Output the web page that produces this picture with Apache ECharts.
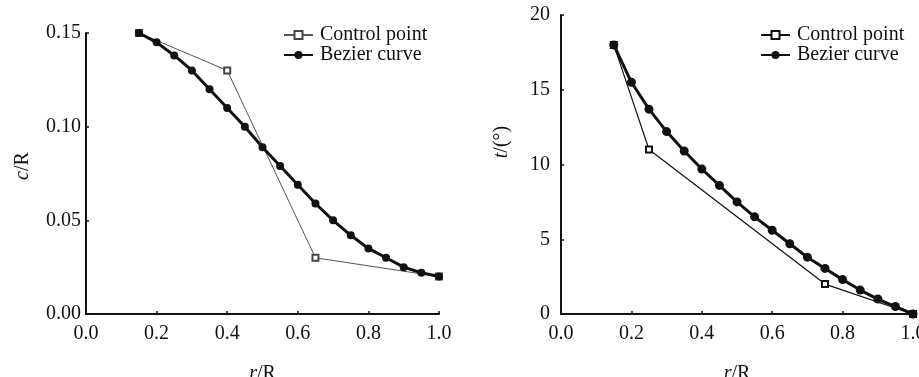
<!DOCTYPE html>
<html>
<head>
<meta charset="utf-8">
<script src="https://cdn.jsdelivr.net/npm/echarts@6/dist/echarts.min.js"></script>
<style>
  html, body { margin: 0; padding: 0; background: #fff; }
  #chart { width: 919px; height: 377px; }
</style>
</head>
<body>
<div id="chart"></div>
<script>
// r/R positions shared by both Bezier curves
const rPoints = [0.15, 0.2, 0.25, 0.3, 0.35, 0.4, 0.45, 0.5, 0.55, 0.6, 0.65, 0.7, 0.75, 0.8, 0.85, 0.9, 0.95, 1.0];

// chord c/R (left)
const chordCtrlR = [0.15, 0.4, 0.65, 1.0];
const chordCtrl = [0.15, 0.13, 0.03, 0.02];
const chordBezier = [0.150, 0.145, 0.138, 0.130, 0.120, 0.110, 0.100, 0.089, 0.079, 0.069, 0.059, 0.050, 0.042, 0.035, 0.030, 0.025, 0.022, 0.020];

// twist t (right)
const twistCtrlR = [0.15, 0.25, 0.75, 1.0];
const twistCtrl = [18, 11, 2, 0];
const twistBezier = [18.0, 15.5, 13.7, 12.2, 10.9, 9.7, 8.6, 7.5, 6.5, 5.6, 4.7, 3.8, 3.05, 2.3, 1.6, 1.0, 0.5, 0.0];

const xTicks = [0, 0.2, 0.4, 0.6, 0.8, 1.0];

const font = "Liberation Serif";
const ink = "#111";

const zip = (xs, ys) => xs.map((x, i) => [x, ys[i]]);

const chart = echarts.init(document.getElementById("chart"), null, { renderer: "canvas" });

const xAxisBase = {
  type: "value",
  min: xTicks[0],
  max: xTicks[xTicks.length - 1],
  interval: 0.2,
  splitLine: { show: false },
  axisLine: { lineStyle: { color: ink, width: 2 } },
  axisTick: { inside: true, length: 3, lineStyle: { color: ink, width: 1.5 } },
  axisLabel: { color: ink, fontFamily: font, fontSize: 20, margin: 10, formatter: (v) => v.toFixed(1) },
  name: "{i|r}/R",
  nameLocation: "middle",
  nameGap: 50,
  nameTextStyle: {
    color: ink, fontFamily: font, fontSize: 20,
    rich: { i: { fontStyle: "italic", fontFamily: font, fontSize: 20, color: ink } },
  },
};

const yAxisBase = {
  type: "value",
  splitLine: { show: false },
  axisLine: { show: true, lineStyle: { color: ink, width: 2 } },
  axisTick: { show: true, inside: true, length: 3, lineStyle: { color: ink, width: 1.5 } },
  axisLabel: { color: ink, fontFamily: font, fontSize: 20 },
};

const legendBase = {
  orient: "vertical",
  padding: 0,
  itemWidth: 29,
  itemHeight: 10,
  itemGap: 0,
  textStyle: { color: ink, fontFamily: font, fontSize: 20, lineHeight: 20, padding: [0, 0, 0, 2] },
};

chart.setOption({
  animation: false,
  backgroundColor: "#fff",
  grid: [
    { left: 86, top: 33, width: 353, height: 281, outerBoundsMode: "none", containLabel: false },
    { left: 561, top: 15, width: 352, height: 299, outerBoundsMode: "none", containLabel: false },
  ],
  xAxis: [
    { ...xAxisBase, gridIndex: 0 },
    { ...xAxisBase, gridIndex: 1 },
  ],
  yAxis: [
    {
      ...yAxisBase, gridIndex: 0, min: 0, max: 0.15, interval: 0.05,
      axisLabel: { ...yAxisBase.axisLabel, margin: 5, formatter: (v) => v.toFixed(2) },
    },
    {
      ...yAxisBase, gridIndex: 1, min: 0, max: 20, interval: 5,
      axisLabel: { ...yAxisBase.axisLabel, margin: 11 },
    },
  ],
  legend: [
    { ...legendBase, left: 283, top: 25, data: ["Control point", "Bezier curve"] },
    { ...legendBase, left: 760, top: 25, data: ["Control point ", "Bezier curve "] },
  ],
  graphic: [
    {
      type: "text", x: 23, y: 166, rotation: Math.PI / 2,
      style: {
        text: "{i|c}/R", align: "center", verticalAlign: "middle",
        fontFamily: font, fontSize: 20, fill: ink,
        rich: { i: { fontStyle: "italic", fontFamily: font, fontSize: 20, fill: ink } },
      },
    },
    {
      type: "text", x: 502, y: 142, rotation: Math.PI / 2,
      style: {
        text: "{i|t}/(°)", align: "center", verticalAlign: "middle",
        fontFamily: font, fontSize: 20, fill: ink,
        rich: { i: { fontStyle: "italic", fontFamily: font, fontSize: 20, fill: ink } },
      },
    },
  ],
  series: [
    {
      name: "Control point", type: "line", xAxisIndex: 0, yAxisIndex: 0,
      data: zip(chordCtrlR, chordCtrl),
      symbol: "emptyRect", symbolSize: 6,
      lineStyle: { color: "#555", width: 1 },
      itemStyle: { color: "#444", borderColor: "#444", borderWidth: 1 },
      z: 2,
    },
    {
      name: "Bezier curve", type: "line", xAxisIndex: 0, yAxisIndex: 0,
      data: zip(rPoints, chordBezier),
      symbol: "circle", symbolSize: 8,
      lineStyle: { color: ink, width: 3 },
      itemStyle: { color: ink },
      z: 3,
    },
    {
      name: "Control point ", type: "line", xAxisIndex: 1, yAxisIndex: 1,
      data: zip(twistCtrlR, twistCtrl),
      symbol: "emptyRect", symbolSize: 6,
      lineStyle: { color: ink, width: 1.2 },
      itemStyle: { color: ink, borderColor: ink, borderWidth: 1 },
      z: 2,
    },
    {
      name: "Bezier curve ", type: "line", xAxisIndex: 1, yAxisIndex: 1,
      data: zip(rPoints, twistBezier),
      symbol: "circle", symbolSize: 9,
      lineStyle: { color: ink, width: 3 },
      itemStyle: { color: ink },
      z: 3,
    },
  ],
});
</script>
</body>
</html>
